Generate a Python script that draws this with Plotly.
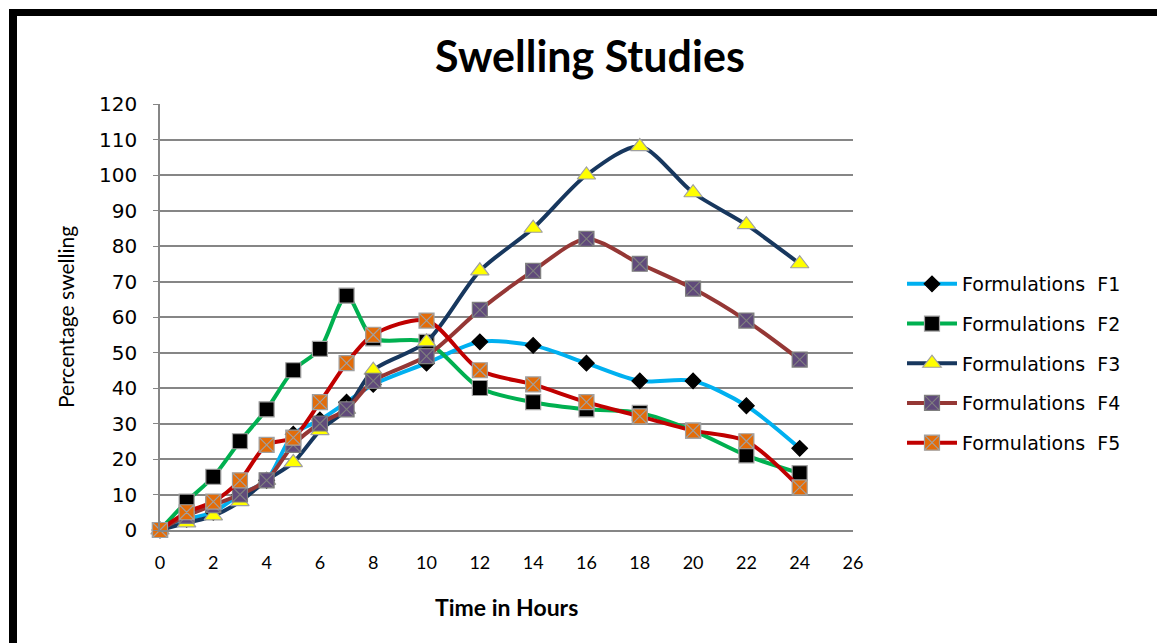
import plotly.graph_objects as go

hours = [0, 1, 2, 3, 4, 5, 6, 7, 8, 10, 12, 14, 16, 18, 20, 22, 24]
f1 = [0, 3, 5, 10, 14, 27, 31, 36, 41, 47, 53, 52, 47, 42, 42, 35, 23]
f2 = [0, 8, 15, 25, 34, 45, 51, 66, 54, 53, 40, 36, 34, 33, 28, 21, 16]
f3 = [0, 2, 4, 8, 14, 19, 28, 34, 45, 53, 73, 85, 100, 108, 95, 86, 75]
f4 = [0, 4, 7, 10, 14, 24, 30, 34, 42, 49, 62, 73, 82, 75, 68, 59, 48]
f5 = [0, 5, 8, 14, 24, 26, 36, 47, 55, 59, 45, 41, 36, 32, 28, 25, 12]
names = ["Formulations\u00a0 F1", "Formulations\u00a0 F2", "Formulations\u00a0 F3",
         "Formulations\u00a0 F4", "Formulations\u00a0 F5"]
x_ticks = list(range(0, 27, 2))
y_ticks = list(range(0, 121, 10))

W, H = 1157, 643
L, R, T, B = 160, 853, 104, 530
pw, ph = R - L, B - T

def px(x):
    return (x - L) / pw

def py(y):
    return (B - y) / ph

styles = [
    dict(line="#00B0F0", symbol="diamond", mcolor="black", mline="black", size=12),
    dict(line="#00B050", symbol="square", mcolor="black", mline="#A0A0A0", size=15),
    dict(line="#17375E", symbol="triangle-up", mcolor="#FFFF00", mline="#A0A0A0", size=16),
    dict(line="#953735", symbol="square-x", mcolor="#604A7B", mline="#7F7F7F", size=15),
    dict(line="#C00000", symbol="square-x", mcolor="#E36C09", mline="#A0A0A0", size=15),
]

SANS = "DejaVu Sans, Verdana, sans-serif"
CAL = "Lato, Carlito, Calibri, sans-serif"

fig = go.Figure()
for i, (vals, st) in enumerate(zip([f1, f2, f3, f4, f5], styles)):
    fig.add_trace(go.Scatter(
        x=hours, y=vals, name=names[i], mode="lines+markers",
        line=dict(color=st["line"], width=4, shape="spline", smoothing=0.8),
        marker=dict(symbol=st["symbol"], color=st["mcolor"], size=st["size"],
                    line=dict(color=st["mline"], width=1.2)),
        legendgroup=f"g{i}", cliponaxis=False,
    ))

fig.update_layout(
    width=W, height=H,
    margin=dict(l=L, r=W - R, t=T, b=H - B),
    paper_bgcolor="white", plot_bgcolor="white",
    showlegend=True,
    legend=dict(x=px(902), y=py(265), xanchor="left", yanchor="top",
                font=dict(family=SANS, size=19, color="black"),
                tracegroupgap=12, itemwidth=50, bgcolor="rgba(0,0,0,0)"),
    xaxis=dict(range=[0, 26], tickvals=x_ticks, ticktext=[str(v) for v in x_ticks],
               showgrid=False, zeroline=False, showline=True, linecolor="#868686",
               linewidth=1.5, ticks="", ticklabelstandoff=16,
               tickfont=dict(family=CAL, size=18, color="black")),
    yaxis=dict(range=[0, 120], tickvals=y_ticks, ticktext=[str(v) for v in y_ticks],
               showgrid=True, gridcolor="#868686", gridwidth=1.5, zeroline=False,
               showline=True, linecolor="#868686", linewidth=1.5,
               ticks="outside", ticklen=5, tickcolor="#868686", ticklabelstandoff=12,
               tickfont=dict(family=SANS, size=20, color="black")),
    annotations=[
        dict(text="<b>Swelling Studies</b>", x=px(590), y=py(55), xref="paper", yref="paper",
             showarrow=False, xanchor="center", yanchor="middle",
             font=dict(family=CAL, size=43, color="black")),
        dict(text="Percentage swelling", x=px(65), y=py(317), xref="paper", yref="paper",
             showarrow=False, textangle=-90, xanchor="center", yanchor="middle",
             font=dict(family=CAL, size=21, color="black")),
        dict(text="<b>Time in Hours</b>", x=px(507), y=py(607), xref="paper", yref="paper",
             showarrow=False, xanchor="center", yanchor="middle",
             font=dict(family=CAL, size=23, color="black")),
    ],
    shapes=[
        dict(type="rect", xref="paper", yref="paper", x0=px(9), x1=px(17), y0=py(643), y1=py(9),
             fillcolor="black", line=dict(width=0), layer="above"),
        dict(type="rect", xref="paper", yref="paper", x0=px(9), x1=px(1157), y0=py(16), y1=py(9),
             fillcolor="black", line=dict(width=0), layer="above"),
    ],
)

fig.write_html("out.html")
